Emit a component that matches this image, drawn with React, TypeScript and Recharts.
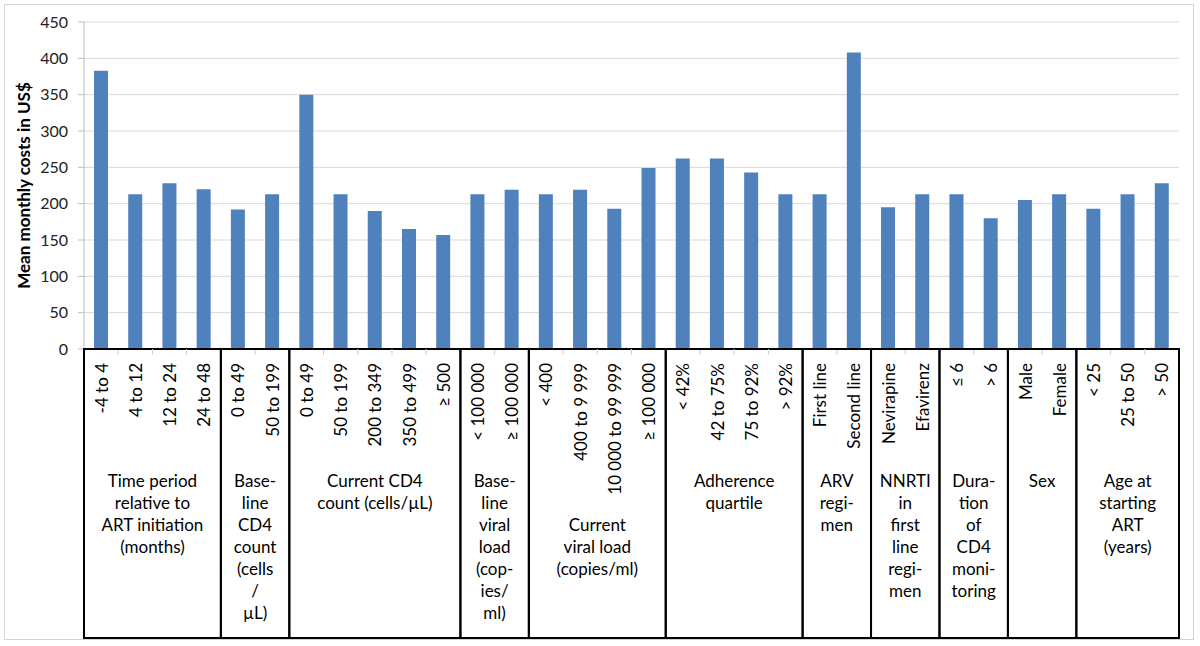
import React from 'react';
import { BarChart, Bar, XAxis, YAxis, CartesianGrid } from 'recharts';

const categories = [
  '-4 to 4', '4 to 12', '12 to 24', '24 to 48',
  '0 to 49', '50 to 199',
  '0 to 49', '50 to 199', '200 to 349', '350 to 499', '≥ 500',
  '< 100 000', '≥ 100 000',
  '< 400', '400 to 9 999', '10 000 to 99 999', '≥ 100 000',
  '< 42%', '42 to 75%', '75 to 92%', '> 92%',
  'First line', 'Second line',
  'Nevirapine', 'Efavirenz',
  '≤ 6', '> 6',
  'Male', 'Female',
  '< 25', '25 to 50', '> 50',
];

const costs = [
  383, 213, 228, 220,
  192, 213,
  350, 213, 190, 165, 157,
  213, 219,
  213, 219, 193, 249,
  262, 262, 243, 213,
  213, 408,
  195, 213,
  213, 180,
  205, 213,
  193, 213, 228,
];

const groupSizes = [4, 2, 5, 2, 4, 4, 2, 2, 2, 2, 3];

const groupLabels = [
  ['Time period', 'relative to', 'ART initiation', '(months)'],
  ['Base-', 'line', 'CD4', 'count', '(cells', '/', 'µL)'],
  ['Current CD4', 'count (cells/µL)'],
  ['Base-', 'line', 'viral', 'load', '(cop-', 'ies/', 'ml)'],
  ['Current', 'viral load', '(copies/ml)'],
  ['Adherence', 'quartile'],
  ['ARV', 'regi-', 'men'],
  ['NNRTI', 'in', 'first', 'line', 'regi-', 'men'],
  ['Dura-', 'tion', 'of', 'CD4', 'moni-', 'toring'],
  ['Sex'],
  ['Age at', 'starting', 'ART', '(years)'],
];

const yTicks = [0, 50, 100, 150, 200, 250, 300, 350, 400, 450];

const data = costs.map((v, i) => ({ idx: i, cost: v }));

// group bookkeeping
const groupOf: number[] = [];
const groupStartIdx: number[] = [];
const groupEndIdx: number[] = [];
{
  let k = 0;
  groupSizes.forEach((s, g) => {
    groupStartIdx.push(k);
    groupEndIdx.push(k + s - 1);
    for (let j = 0; j < s; j++) groupOf.push(g);
    k += s;
  });
}

const W = 1200;
const H = 646;
const MARGIN = { top: 22, right: 21, left: 0, bottom: 8 };
const Y_AXIS_W = 84;
const X_AXIS_H = 289;
const PLOT_W = W - MARGIN.left - MARGIN.right - Y_AXIS_W;
const FONT = 'Lato, "Open Sans", sans-serif';
const LINE_H = 22;
const LABEL_TOP = 138;
const TXT = 17;

function CategoryTick(props: any) {
  const { x, y, payload } = props;
  const i = Number(payload.value);
  const half = typeof payload.offset === 'number' && payload.offset > 0 ? payload.offset : PLOT_W / costs.length / 2;
  const band = half * 2;
  const g = groupOf[i];
  const items: React.ReactNode[] = [];
  if (i !== groupEndIdx[g]) {
    items.push(
      <line key="t" x1={x + half} x2={x + half} y1={y} y2={y + 6} stroke="#d0d0d0" strokeWidth={1} />
    );
  }
  items.push(
    <text
      key="l"
      transform={`translate(${x + 6.5},${y + 14}) rotate(-90)`}
      textAnchor="end"
      fontSize={TXT}
      fontFamily={FONT}
      fill="#000"
    >
      {categories[i]}
    </text>
  );
  if (i === groupStartIdx[g]) {
    const size = groupSizes[g];
    const left = x - half;
    const cx = left + (size * band) / 2;
    let longest = 0;
    for (let j = groupStartIdx[g]; j <= groupEndIdx[g]; j++) longest = Math.max(longest, categories[j].length);
    const top = LABEL_TOP + (longest >= 14 ? 2 * LINE_H : 0);
    items.push(
      <rect key="r" x={left} y={y} width={size * band} height={X_AXIS_H} fill="none" stroke="#000" strokeWidth={2} />
    );
    items.push(
      <text key="g" x={cx} y={y + top} textAnchor="middle" fontSize={TXT} fontFamily={FONT} fill="#000">
        {groupLabels[g].map((ln, k) => (
          <tspan key={k} x={cx} dy={k === 0 ? 0 : LINE_H}>
            {ln}
          </tspan>
        ))}
      </text>
    );
  }
  return <g>{items}</g>;
}

function YLabel(props: any) {
  const vb = props.viewBox || { y: MARGIN.top, height: 327 };
  const cy = vb.y + vb.height / 2;
  const bx = 30;
  return (
    <text
      x={bx}
      y={cy}
      transform={`rotate(-90, ${bx}, ${cy})`}
      textAnchor="middle"
      fontSize={17}
      fontWeight="bold"
      fontFamily={FONT}
      fill="#000"
    >
      Mean monthly costs in US$
    </text>
  );
}

export default function App() {
  return (
    <div style={{ position: 'absolute', left: 0, top: 0, width: W, height: H, background: '#fff' }}>
      <div
        style={{
          position: 'absolute',
          left: 4,
          top: 4,
          width: 1190,
          height: 636,
          border: '1px solid #d4d4d4',
          boxSizing: 'border-box',
          pointerEvents: 'none',
        }}
      />
      <BarChart width={W} height={H} data={data} margin={MARGIN} style={{ fontFamily: FONT }}>
        <CartesianGrid vertical={false} stroke="#d9d9d9" />
        <XAxis
          dataKey="idx"
          type="category"
          interval={0}
          height={X_AXIS_H}
          tickLine={false}
          tickSize={0}
          tickMargin={0}
          axisLine={{ stroke: '#000', strokeWidth: 2 }}
          tick={<CategoryTick />}
        />
        <YAxis
          width={Y_AXIS_W}
          domain={[0, 450]}
          ticks={yTicks}
          interval={0}
          tickSize={6}
          tickMargin={10}
          axisLine={{ stroke: '#bfbfbf' }}
          tickLine={{ stroke: '#bfbfbf' }}
          tick={{ fontSize: 16, fill: '#222', fontFamily: FONT }}
          label={{ content: <YLabel /> }}
        />
        <Bar dataKey="cost" fill="#4F81BD" barSize={14} isAnimationActive={false} />
      </BarChart>
    </div>
  );
}
